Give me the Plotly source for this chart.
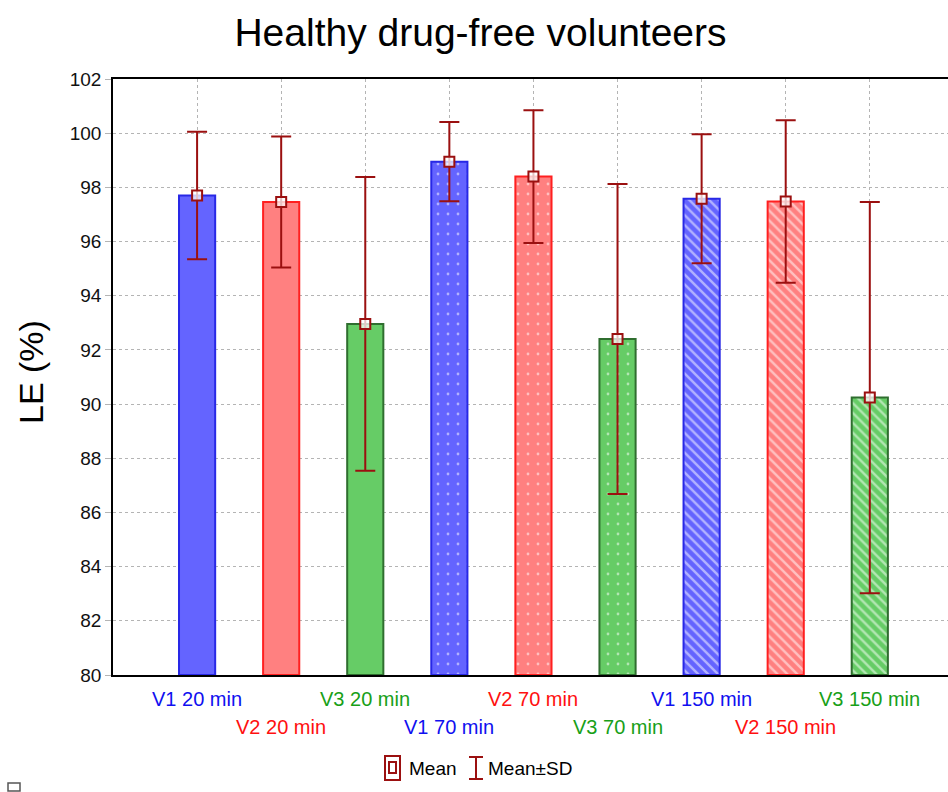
import plotly.graph_objects as go

categories = ["V1 20 min", "V2 20 min", "V3 20 min",
              "V1 70 min", "V2 70 min", "V3 70 min",
              "V1 150 min", "V2 150 min", "V3 150 min"]
means = [97.7, 97.46, 92.96, 98.95, 98.4, 92.4, 97.58, 97.48, 90.24]
sds = [2.35, 2.42, 5.42, 1.46, 2.45, 5.72, 2.38, 3.0, 7.22]
y_ticks = [80, 82, 84, 86, 88, 90, 92, 94, 96, 98, 100, 102]

fill_colors = ["#6464FF", "#FF8080", "#66CC66"] * 3
line_colors = ["#2828E6", "#FF2020", "#2F6E2F"] * 3
label_colors = ["#1010F0", "#FF1010", "#18A018"] * 3
patterns = [""] * 3 + ["."] * 3 + ["\\"] * 3

FONT = "Liberation Sans, Arial, sans-serif"
L, T, B = 113, 79, 675
W, H = 948, 792
PW = W - L
PH = B - T

def px(x):
    return (x - L) / PW

def py(y):
    return (B - y) / PH

xs = list(range(len(categories)))

fig = go.Figure()
for i in xs:
    fig.add_trace(go.Bar(
        x=[i], y=[means[i] - 80], base=80, width=0.43,
        marker=dict(
            color=fill_colors[i],
            line=dict(color=line_colors[i], width=2),
            pattern=dict(shape=patterns[i], fgcolor="white", bgcolor=fill_colors[i],
                         size=10 if patterns[i] == "." else 7,
                         solidity=0.06 if patterns[i] == "." else 0.35),
        ),
        showlegend=False, hoverinfo="skip",
    ))

fig.add_trace(go.Scatter(
    x=xs, y=means, mode="markers",
    marker=dict(symbol="square", size=10, color="rgba(255,255,255,0.75)",
                line=dict(color="#9B1010", width=2)),
    error_y=dict(type="data", array=sds, visible=True, color="#9B1010",
                 thickness=2, width=10),
    showlegend=False, hoverinfo="skip",
))

annotations = []
for i, c in enumerate(categories):
    annotations.append(dict(
        x=i, xref="x", y=py(699) if i % 2 == 0 else py(727), yref="paper",
        text=c, showarrow=False, xanchor="center", yanchor="middle",
        font=dict(family=FONT, size=20, color=label_colors[i]),
    ))

annotations.append(dict(
    x=px(31), xref="paper", y=py(372), yref="paper", text="LE (%)",
    textangle=-90, showarrow=False, xanchor="center", yanchor="middle",
    font=dict(family=FONT, size=34, color="black"),
))
annotations.append(dict(
    x=px(407), xref="paper", y=py(768), yref="paper", text="Mean",
    showarrow=False, xanchor="left", yanchor="middle",
    font=dict(family=FONT, size=19, color="black"),
))
annotations.append(dict(
    x=px(486), xref="paper", y=py(768), yref="paper", text="Mean±SD",
    showarrow=False, xanchor="left", yanchor="middle",
    font=dict(family=FONT, size=19, color="black"),
))

dr = "#9B1010"
shapes = [
    dict(type="rect", xref="paper", yref="paper", x0=px(385), x1=px(400), y0=py(780), y1=py(756),
         line=dict(color=dr, width=2), fillcolor="white"),
    dict(type="rect", xref="paper", yref="paper", x0=px(389), x1=px(396), y0=py(773), y1=py(762),
         line=dict(color=dr, width=2)),
    dict(type="line", xref="paper", yref="paper", x0=px(476), x1=px(476), y0=py(779), y1=py(757),
         line=dict(color=dr, width=2)),
    dict(type="line", xref="paper", yref="paper", x0=px(469), x1=px(483), y0=py(757), y1=py(757),
         line=dict(color=dr, width=2)),
    dict(type="line", xref="paper", yref="paper", x0=px(469), x1=px(483), y0=py(779), y1=py(779),
         line=dict(color=dr, width=2)),
    dict(type="rect", xref="paper", yref="paper", x0=px(8), x1=px(20), y0=py(791), y1=py(783),
         line=dict(color="#555555", width=1.5)),
]

fig.update_layout(
    width=W, height=H,
    margin=dict(l=L, r=0, t=T, b=H - B),
    paper_bgcolor="white", plot_bgcolor="white",
    barmode="overlay",
    title=dict(text="Healthy drug-free volunteers", x=480.5 / W, xref="container", xanchor="center",
               y=1 - 32 / H, yref="container", yanchor="middle",
               font=dict(family=FONT, size=39, color="black")),
    xaxis=dict(range=[-1, 8.93], tickvals=xs, showticklabels=False, ticks="",
               showgrid=True, gridcolor="#B4B4B4", griddash="dot", gridwidth=1,
               showline=True, linecolor="black", linewidth=1.5, mirror=True, zeroline=False),
    yaxis=dict(range=[80, 102], tickvals=y_ticks, ticktext=[str(v) for v in y_ticks],
               showgrid=True, gridcolor="#B4B4B4", griddash="dot", gridwidth=1,
               ticks="outside", ticklen=6, tickcolor="#B4B4B4",
               tickfont=dict(family=FONT, size=19, color="#111111"),
               showline=True, linecolor="black", linewidth=1.5, zeroline=False),
    annotations=annotations,
    shapes=shapes,
)

fig.write_html("out.html")
